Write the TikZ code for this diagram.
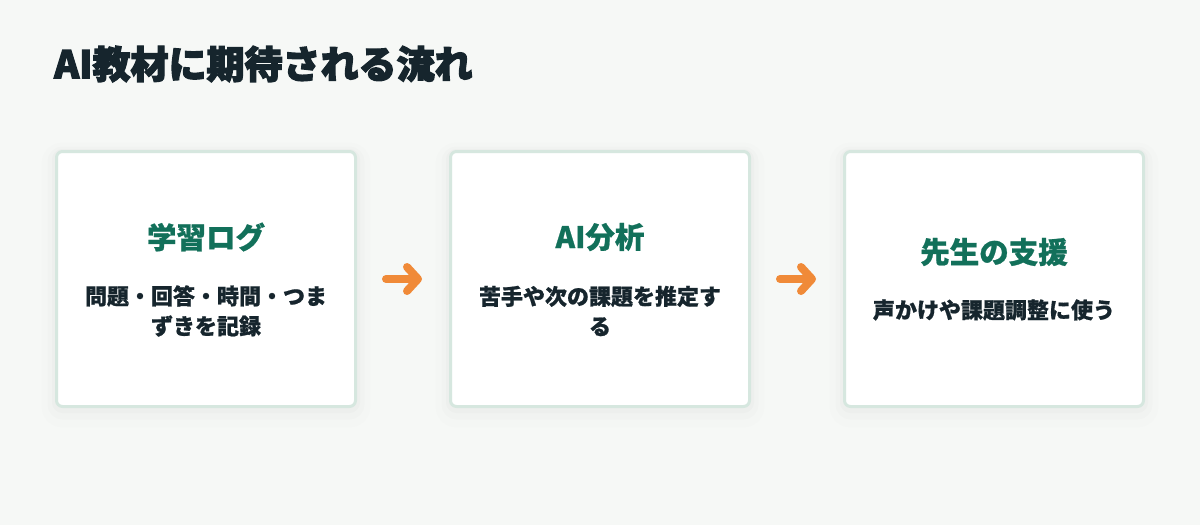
\documentclass[tikz,border=0pt]{standalone}
\usepackage{fontspec}
\newfontfamily\jp{Noto Sans CJK JP}[BoldFeatures={FakeBold=0.8}]
\newfontfamily\jptitle{Noto Sans CJK JP}[BoldFeatures={FakeBold=3.2}]
\usetikzlibrary{arrows.meta}
\definecolor{bgc}{HTML}{F6F8F6}
\definecolor{bordc}{HTML}{D6E7DF}
\definecolor{headc}{HTML}{12705A}
\definecolor{darkc}{HTML}{16252D}
\definecolor{orangec}{HTML}{F08A38}
\tikzset{
  card/.style={draw=bordc, line width=3pt, fill=white, rounded corners=6pt,
    minimum width=299pt, minimum height=255pt, inner sep=0pt,
    preaction={draw=black, draw opacity=0.008, line width=30pt, transform canvas={yshift=-6pt}},
    preaction={draw=black, draw opacity=0.010, line width=18pt, transform canvas={yshift=-4pt}},
    preaction={draw=black, draw opacity=0.014, line width=9pt, transform canvas={yshift=-2pt}}},
  heading/.style={font=\jp\bfseries\fontsize{29.5pt}{32pt}\selectfont, text=headc, inner sep=0pt},
  bodytext/.style={font=\jp\bfseries\fontsize{22pt}{30pt}\selectfont, text=darkc,
    align=center, inner sep=0pt},
  flowarrow/.style={draw=orangec, line width=8pt, line cap=round, line join=round,
    -{Straight Barb[length=11pt, width=24pt, round]},
    shorten <=29pt, shorten >=27pt}
}
\begin{document}
\begin{tikzpicture}[x=1pt, y=-1pt]
  \fill[bgc] (0,0) rectangle (1200,525);
  \useasboundingbox (0,0) rectangle (1200,525);
  \node[anchor=west, inner sep=0pt, text=darkc, font=\jptitle\bfseries\fontsize{38pt}{40pt}\selectfont] (title) at (54,64) {AI教材に期待される流れ};

  \node[card] (b1) at (206,279) {};
  \node[card] (b2) at (600,279) {};
  \node[card] (b3) at (994,279) {};

  \node[heading] (h1) at (206,237) {学習ログ};
  \node[bodytext] (t1) at (206,311) {問題・回答・時間・つま\\ずきを記録};

  \node[heading] (h2) at (600,237) {AI分析};
  \node[bodytext] (t2) at (600,311) {苦手や次の課題を推定す\\る};

  \node[heading] (h3) at (994,252) {先生の支援};
  \node[bodytext] (t3) at (994,310) {声かけや課題調整に使う};

  \draw[flowarrow] (b1.east) -- (b2.west);
  \draw[flowarrow] (b2.east) -- (b3.west);
\end{tikzpicture}
\end{document}
